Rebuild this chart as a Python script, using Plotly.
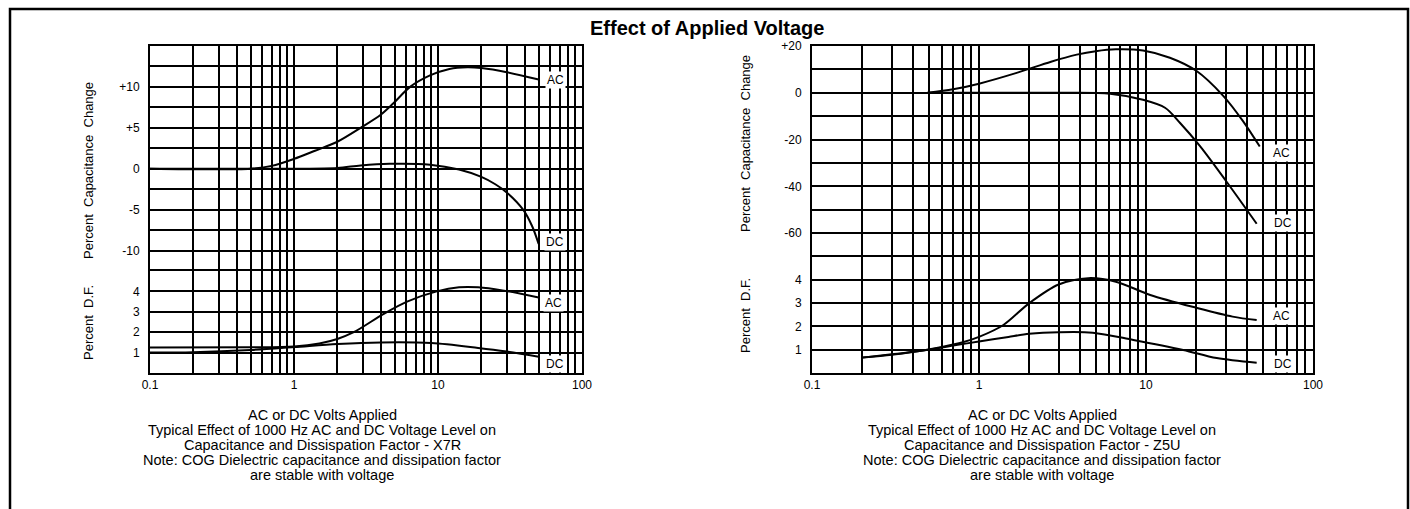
import math
import plotly.graph_objects as go

# ---- Data -------------------------------------------------------------
# X7R: percent capacitance change vs applied volts
x7r_cap_ac_v = [0.1, 0.5, 0.7, 1.0, 1.4, 2.0, 2.9, 4.0, 4.9, 6.4, 8.8, 12, 16, 20, 30, 50]
x7r_cap_ac = [0, 0, 0.35, 1.2, 2.2, 3.3, 5.0, 6.6, 8.0, 10.0, 11.4, 12.2, 12.4, 12.3, 11.8, 10.9]
x7r_cap_dc_v = [0.1, 1.0, 2.0, 2.9, 4.6, 8.8, 14, 20, 25, 30, 39, 45, 50]
x7r_cap_dc = [0, 0, 0.1, 0.4, 0.6, 0.5, -0.1, -1.0, -1.9, -2.9, -5.0, -7.0, -9.2]
# X7R: percent dissipation factor
x7r_df_ac_v = [0.1, 0.5, 1.0, 1.5, 2.0, 2.6, 4.2, 6.1, 9.8, 14, 19, 28, 50]
x7r_df_ac = [1.25, 1.26, 1.3, 1.45, 1.67, 2.0, 2.9, 3.5, 4.0, 4.2, 4.2, 4.05, 3.7]
x7r_df_dc_v = [0.1, 0.2, 0.5, 1.0, 2.0, 4.0, 9.0, 19, 30, 50]
x7r_df_dc = [1.0, 1.02, 1.13, 1.27, 1.42, 1.5, 1.47, 1.23, 1.05, 0.8]

# Z5U: percent capacitance change
z5u_cap_ac_v = [0.49, 0.7, 1.0, 1.7, 2.7, 3.85, 5.0, 6.6, 9.6, 13.9, 20, 29, 38, 48]
z5u_cap_ac = [0, 1.5, 3.9, 8.6, 13.3, 16.3, 17.8, 18.6, 18.1, 15.0, 9.4, -1.3, -12, -23]
z5u_cap_dc_v = [0.5, 3.0, 6.1, 9.6, 13, 16, 21, 30, 46]
z5u_cap_dc = [0, 0, -0.4, -3.0, -6.4, -12.9, -22.7, -37.5, -56]
# Z5U: percent dissipation factor
z5u_df_ac_v = [0.2, 0.3, 0.4, 0.6, 0.8, 1.0, 1.4, 2.0, 3.0, 4.5, 6.6, 10.6, 20, 33, 46]
z5u_df_ac = [0.66, 0.78, 0.9, 1.12, 1.32, 1.55, 2.06, 3.0, 3.8, 4.07, 3.92, 3.35, 2.8, 2.42, 2.27]
z5u_df_dc_v = [0.2, 0.3, 0.5, 0.7, 1.0, 1.5, 2.0, 3.0, 4.8, 8.4, 16.7, 26.5, 46]
z5u_df_dc = [0.66, 0.8, 1.0, 1.18, 1.35, 1.55, 1.68, 1.75, 1.73, 1.42, 0.99, 0.64, 0.44]

# Axis ticks
volt_grid = [m * 10 ** e for e in (-1, 0, 1) for m in range(1, 10)] + [100]
volt_labels = {0.1: "0.1", 1: "1", 10: "10", 100: "100"}
x7r_cap_ticks = [-12.5, -10, -7.5, -5, -2.5, 0, 2.5, 5, 7.5, 10, 12.5, 15]
x7r_cap_text = ["", "-10", "", "-5", "", "0", "", "+5", "", "+10", "", ""]
z5u_cap_ticks = [-70, -60, -50, -40, -30, -20, -10, 0, 10, 20]
z5u_cap_text = ["", "-60", "", "-40", "", "-20", "", "0", "", "+20"]
df_ticks = [0, 1, 2, 3, 4, 5]
df_text = ["", "1", "2", "3", "4", ""]

# Curve end labels: (axis suffix, volts, value, text)
x7r_labels = [("", 65, 10.9, "AC"), ("", 65, -8.9, "DC"), ("2", 63, 3.43, "AC"), ("2", 65, 0.44, "DC")]
z5u_labels = [("3", 65, -25.7, "AC"), ("3", 66, -55.8, "DC"), ("4", 65, 2.45, "AC"), ("4", 66, 0.39, "DC")]

caption_lines = {
    "X7R": ["AC or DC Volts Applied",
            "Typical Effect of 1000 Hz AC and DC Voltage Level on",
            "Capacitance and Dissispation Factor - X7R",
            "Note: COG Dielectric capacitance and dissipation factor",
            "are stable with voltage"],
    "Z5U": ["AC or DC Volts Applied",
            "Typical Effect of 1000 Hz AC and DC Voltage Level on",
            "Capacitance and Dissispation Factor - Z5U",
            "Note: COG Dielectric capacitance and dissipation factor",
            "are stable with voltage"],
}

# ---- Layout geometry (figure pixels) ---------------------------------
W, H = 1410, 509
FONT = "Arial, Liberation Sans, sans-serif"


def px(x):
    return x / W


def py(y):
    return 1 - y / H


fig = go.Figure()

line_style = dict(color="black", width=2, shape="spline", smoothing=0.9)
series = [
    ("x", "y", x7r_cap_ac_v, x7r_cap_ac), ("x", "y", x7r_cap_dc_v, x7r_cap_dc),
    ("x2", "y2", x7r_df_ac_v, x7r_df_ac), ("x2", "y2", x7r_df_dc_v, x7r_df_dc),
    ("x3", "y3", z5u_cap_ac_v, z5u_cap_ac), ("x3", "y3", z5u_cap_dc_v, z5u_cap_dc),
    ("x4", "y4", z5u_df_ac_v, z5u_df_ac), ("x4", "y4", z5u_df_dc_v, z5u_df_dc),
]
for xa, ya, xs, ys in series:
    fig.add_trace(go.Scatter(x=xs, y=ys, xaxis=xa, yaxis=ya, mode="lines",
                             line=line_style, showlegend=False, hoverinfo="skip"))

tick_font = dict(family=FONT, size=12, color="black")
frame = dict(showline=True, linecolor="black", linewidth=2,
             showgrid=True, gridcolor="black", gridwidth=2, zeroline=False,
             ticks="", tickfont=tick_font, fixedrange=True, automargin=False)


def x_axis(domain, anchor, lower):
    # upper (capacitance) panel: only its top edge is drawn as an axis line;
    # lower (D.F.) panel: bottom edge plus the shared boundary line
    ax = dict(frame, type="log", range=[-1, 2], domain=domain, anchor=anchor,
              tickmode="array", tickvals=volt_grid,
              ticktext=[volt_labels.get(v, "") for v in volt_grid],
              showticklabels=lower, ticklabelstandoff=0)
    if lower:
        ax.update(side="bottom", mirror=True)
    else:
        ax.update(side="top", mirror=False)
    return ax


def y_axis(domain, anchor, rng, vals, text):
    return dict(frame, range=rng, domain=domain, anchor=anchor, mirror=True,
                tickmode="array", tickvals=vals, ticktext=text,
                ticklabelstandoff=6)


left_x = [px(150), px(582)]
right_x = [px(812), px(1313)]
bottom, top = py(373), py(46)
left_split, right_split = py(271), py(256.5)

fig.update_layout(
    width=W, height=H,
    margin=dict(l=0, r=0, t=0, b=0, pad=0),
    paper_bgcolor="white", plot_bgcolor="white",
    xaxis=x_axis(left_x, "y", False),
    yaxis=y_axis([left_split, top], "x", [-12.5, 15], x7r_cap_ticks, x7r_cap_text),
    xaxis2=x_axis(left_x, "y2", True),
    yaxis2=y_axis([bottom, left_split], "x2", [0, 5], df_ticks, df_text),
    xaxis3=x_axis(right_x, "y3", False),
    yaxis3=y_axis([right_split, top], "x3", [-70, 20], z5u_cap_ticks, z5u_cap_text),
    xaxis4=x_axis(right_x, "y4", True),
    yaxis4=y_axis([bottom, right_split], "x4", [0, 5], df_ticks, df_text),
)

annotations = []
for suffix, v, val, text in x7r_labels + z5u_labels:
    annotations.append(dict(x=math.log10(v), y=val, xref="x" + suffix, yref="y" + suffix,
                            xanchor="center", yanchor="middle",
                            text=text, showarrow=False, bgcolor="white", borderpad=1,
                            font=dict(family=FONT, size=12, color="black")))

# Chart title
annotations.append(dict(x=px(707), y=py(28), xref="paper", yref="paper",
                        xanchor="center", yanchor="middle",
                        text="<b>Effect of Applied Voltage</b>", showarrow=False,
                        font=dict(family=FONT, size=20, color="black")))

# Rotated axis titles
nb = "\u00a0"
cap_title = f"Percent{nb}{nb}Capacitance{nb}{nb}Change"
df_title = f"Percent{nb}{nb}D.F."
for xc, yc_cap, yc_df in ((88, 171, 323), (745, 144, 316)):
    for text, yc in ((cap_title, yc_cap), (df_title, yc_df)):
        annotations.append(dict(x=px(xc), y=py(yc), xref="paper", yref="paper",
                                xanchor="center", yanchor="middle",
                                text=text, textangle=-90, showarrow=False,
                                font=dict(family=FONT, size=13, color="black")))

# Captions under each chart
for key, xc in (("X7R", 322), ("Z5U", 1042)):
    for i, line in enumerate(caption_lines[key]):
        annotations.append(dict(x=px(xc), y=py(415 + 15 * i), xref="paper", yref="paper",
                                xanchor="center", yanchor="middle",
                                text=line, showarrow=False,
                                font=dict(family=FONT, size=14.5, color="black")))

fig.update_layout(annotations=annotations)

# Outer frame around the whole panel
fig.add_shape(type="rect", xref="paper", yref="paper",
              x0=px(10), x1=px(1408), y0=-0.02, y1=py(9),
              line=dict(color="black", width=2.5), fillcolor="rgba(0,0,0,0)")

fig.write_html("out.html", config={"displayModeBar": False},
               post_script="document.body.style.margin='0';")
